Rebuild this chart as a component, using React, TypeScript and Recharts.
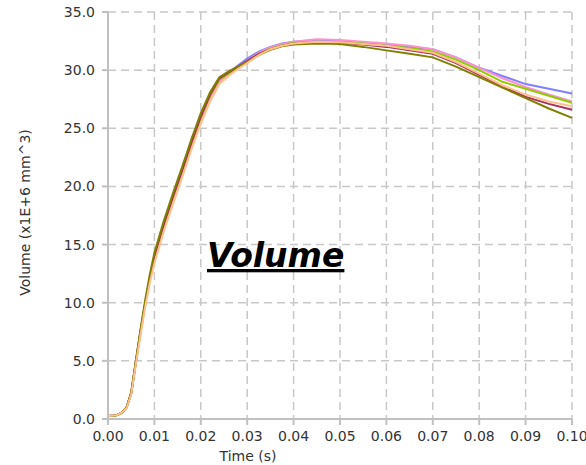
import React from 'react';
import { LineChart, Line, XAxis, YAxis, CartesianGrid } from 'recharts';

// time (s)
const times = [
  0, 0.001, 0.002, 0.003, 0.004, 0.005, 0.006, 0.007, 0.008, 0.009, 0.01,
  0.012, 0.014, 0.016, 0.018, 0.02, 0.022, 0.024, 0.026, 0.028, 0.03,
  0.0325, 0.035, 0.0375, 0.04, 0.045, 0.05, 0.055, 0.06, 0.065, 0.07,
  0.075, 0.08, 0.085, 0.09, 0.095, 0.1,
];

// volume (x1E+6 mm^3), one array per run
const blueRun = [
  0.25, 0.27, 0.35, 0.55, 1.0, 2.2, 4.9, 7.5, 9.9, 12.0, 13.8, 16.5, 18.9, 21.2,
  23.6, 25.8, 27.7, 29.1, 29.8, 30.4, 31.0, 31.6, 32.0, 32.3, 32.45, 32.6, 32.5,
  32.35, 32.2, 32.0, 31.8, 31.1, 30.2, 29.5, 28.8, 28.4, 28.0,
];
const pinkRun = [
  0.25, 0.27, 0.35, 0.55, 1.0, 2.2, 4.8, 7.4, 9.8, 11.9, 13.7, 16.4, 18.8, 21.1,
  23.5, 25.7, 27.6, 29.0, 29.7, 30.3, 30.8, 31.5, 31.95, 32.25, 32.45, 32.65,
  32.6, 32.45, 32.3, 32.1, 31.8, 31.1, 30.2, 29.3, 28.55, 27.9, 27.3,
];
const greenRun = [
  0.25, 0.27, 0.35, 0.55, 1.0, 2.2, 4.9, 7.5, 9.9, 12.0, 13.9, 16.6, 19.0, 21.3,
  23.7, 25.9, 27.8, 29.2, 29.7, 30.2, 30.7, 31.4, 31.85, 32.15, 32.35, 32.45,
  32.4, 32.3, 32.1, 31.9, 31.6, 30.9, 30.0, 29.0, 28.4, 27.8, 27.2,
];
const peachRun = [
  0.25, 0.27, 0.35, 0.55, 0.95, 2.1, 4.7, 7.2, 9.6, 11.7, 13.4, 16.1, 18.5, 20.8,
  23.2, 25.4, 27.3, 28.8, 29.5, 30.1, 30.6, 31.3, 31.8, 32.1, 32.3, 32.45, 32.4,
  32.25, 32.1, 31.8, 31.5, 30.7, 29.7, 28.7, 27.9, 27.3, 26.9,
];
const maroonRun = [
  0.25, 0.27, 0.35, 0.55, 1.0, 2.2, 4.9, 7.5, 9.9, 12.1, 14.0, 16.7, 19.1, 21.4,
  23.8, 26.0, 27.9, 29.3, 29.8, 30.3, 30.8, 31.4, 31.8, 32.1, 32.3, 32.4, 32.35,
  32.2, 32.0, 31.7, 31.4, 30.6, 29.6, 28.6, 27.7, 27.1, 26.6,
];
const oliveRun = [
  0.25, 0.27, 0.35, 0.55, 1.0, 2.3, 5.0, 7.7, 10.2, 12.4, 14.3, 17.0, 19.4, 21.7,
  24.1, 26.3, 28.1, 29.4, 29.9, 30.3, 30.7, 31.3, 31.75, 32.05, 32.2, 32.3,
  32.25, 32.0, 31.7, 31.4, 31.1, 30.3, 29.4, 28.5, 27.6, 26.7, 25.9,
];

const xTicks = [0, 0.01, 0.02, 0.03, 0.04, 0.05, 0.06, 0.07, 0.08, 0.09, 0.1];
const yTicks = [0, 5, 10, 15, 20, 25, 30, 35];

const series = [
  { key: 'blue', values: blueRun, color: '#7f7fff' },
  { key: 'pink', values: pinkRun, color: '#ff90d0' },
  { key: 'green', values: greenRun, color: '#8ccc00' },
  { key: 'maroon', values: maroonRun, color: '#a83060' },
  { key: 'olive', values: oliveRun, color: '#808000' },
  { key: 'peach', values: peachRun, color: '#ffc08c' },
];

const data = times.map((t, i) => {
  const row: Record<string, number> = { t };
  series.forEach((s) => {
    row[s.key] = s.values[i];
  });
  return row;
});

const FONT = '"DejaVu Sans", sans-serif';
const axisColor = '#c0c0c0';

const YLabel = (props: any) => {
  const vb = props.viewBox || { y: 12, height: 407 };
  const cx = 25;
  const cy = vb.y + vb.height / 2 - 3;
  return (
    <text
      x={cx}
      y={cy}
      transform={`rotate(-90 ${cx} ${cy})`}
      textAnchor="middle"
      dominantBaseline="central"
      fontFamily={FONT}
      fontSize={14}
      fill="#333"
    >
      Volume (x1E+6 mm^3)
    </text>
  );
};

const XLabel = (props: any) => {
  const vb = props.viewBox || { x: 108, y: 419 };
  return (
    <text
      x={vb.x + 140}
      y={vb.y + 42}
      textAnchor="middle"
      fontFamily={FONT}
      fontSize={14}
      fill="#333"
    >
      Time (s)
    </text>
  );
};

export default function App() {
  return (
    <div style={{ position: 'absolute', left: 0, top: 0, width: 586, height: 465, background: '#fff' }}>
      <LineChart
        width={586}
        height={465}
        data={data}
        margin={{ top: 12, right: 14, bottom: 0, left: 0 }}
      >
        <CartesianGrid stroke="#c8c8c8" strokeWidth={1.5} strokeDasharray="8 5" />
        <XAxis
          dataKey="t"
          type="number"
          domain={[0, 0.1]}
          ticks={xTicks}
          tickFormatter={(v: number) => v.toFixed(2)}
          height={46}
          tickSize={6}
          tickMargin={6}
          stroke={axisColor}
          strokeWidth={2}
          tick={{ fill: '#333', fontSize: 14, fontFamily: FONT }}
          label={<XLabel />}
          interval={0}
        />
        <XAxis
          xAxisId="top"
          dataKey="t"
          type="number"
          orientation="top"
          domain={[0, 0.1]}
          ticks={xTicks}
          height={0}
          tickSize={5}
          tick={false}
          stroke={axisColor}
          strokeWidth={2}
        />
        <YAxis
          type="number"
          domain={[0, 35]}
          ticks={yTicks}
          tickFormatter={(v: number) => v.toFixed(1)}
          width={108}
          tickSize={6}
          tickMargin={7}
          stroke={axisColor}
          strokeWidth={2}
          tick={{ fill: '#333', fontSize: 14, fontFamily: FONT }}
          label={<YLabel />}
          interval={0}
        />
        <YAxis
          yAxisId="right"
          orientation="right"
          type="number"
          domain={[0, 35]}
          ticks={yTicks}
          width={0}
          tickSize={5}
          tick={false}
          stroke={axisColor}
          strokeWidth={2}
        />
        {series.map((s) => (
          <Line
            key={s.key}
            dataKey={s.key}
            type="linear"
            stroke={s.color}
            strokeWidth={2}
            dot={false}
            isAnimationActive={false}
          />
        ))}
      </LineChart>
      <svg
        width={586}
        height={465}
        style={{ position: 'absolute', left: 0, top: 0, pointerEvents: 'none' }}
      >
        <text
          x={207}
          y={267}
          fontFamily={FONT}
          fontSize={33}
          fontWeight="bold"
          fontStyle="italic"
          textDecoration="underline"
          fill="#000"
        >
          Volume
        </text>
      </svg>
    </div>
  );
}
